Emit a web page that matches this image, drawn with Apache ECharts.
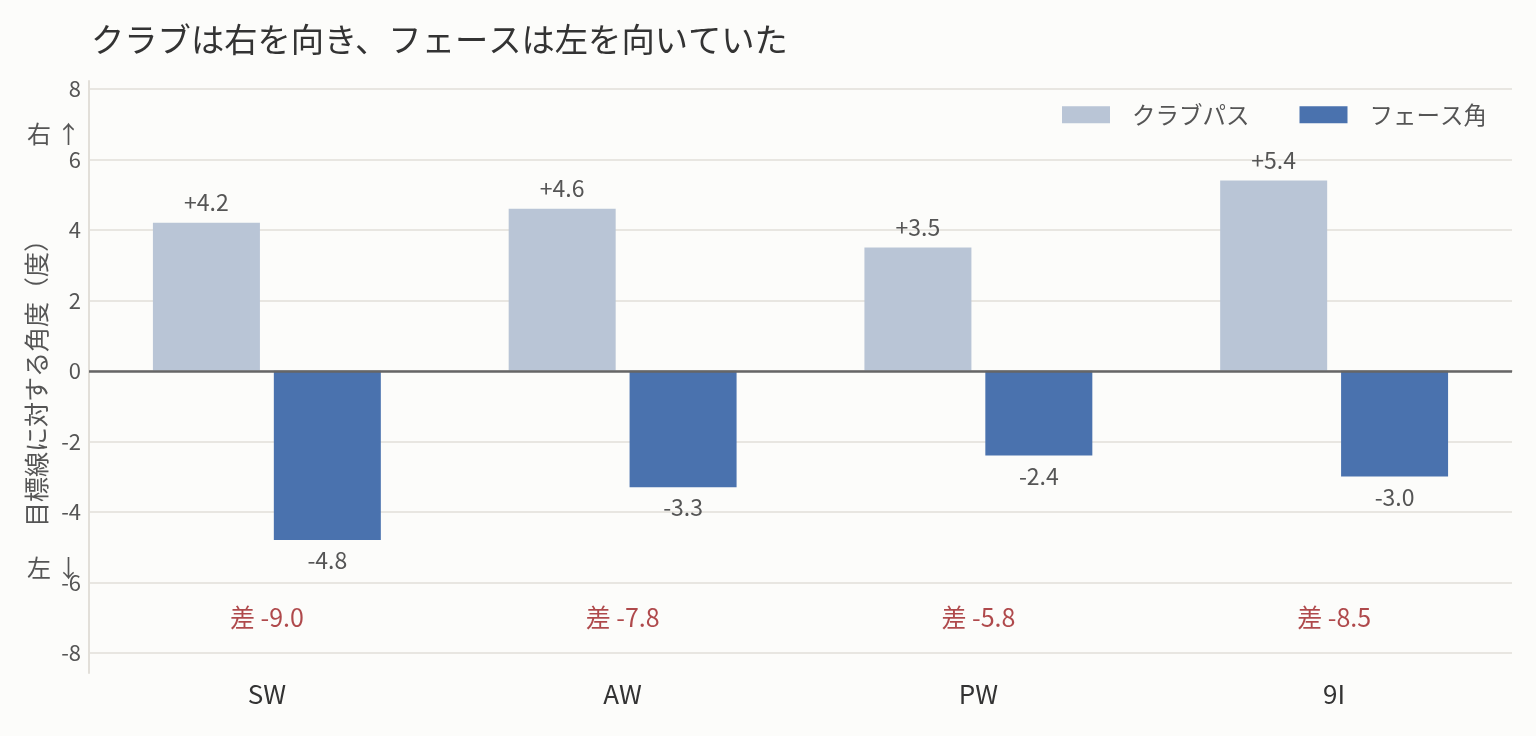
<!DOCTYPE html>
<html>
<head>
<meta charset="utf-8">
<script src="https://cdn.jsdelivr.net/npm/echarts@6/dist/echarts.min.js"></script>
<style>
  html, body { margin: 0; padding: 0; background: #fcfcfa; }
  #chart { width: 1536px; height: 736px; }
</style>
</head>
<body>
<div id="chart"></div>
<script>
// data
const clubs = ['SW', 'AW', 'PW', '9I'];
const clubPath = [4.2, 4.6, 3.5, 5.4];
const faceAngle = [-4.8, -3.3, -2.4, -3.0];
const diffLabels = ['差 -9.0', '差 -7.8', '差 -5.8', '差 -8.5'];
const diffLevel = -7.0;
const yTicks = [-8, -6, -4, -2, 0, 2, 4, 6, 8];

const font = '"Noto Sans CJK JP", "Noto Sans", sans-serif';

let chart = echarts.init(document.getElementById('chart'));

chart.setOption({
    backgroundColor: '#fcfcfa',
    textStyle: { fontFamily: font },
    title: {
        text: 'クラブは右を向き、フェースは左を向いていた',
        left: 86,
        top: 18,
        textStyle: { fontFamily: font, fontSize: 33.3, fontWeight: 'normal', color: '#333' }
    },
    legend: {
        data: ['クラブパス', 'フェース角'],
        icon: 'rect',
        right: 44,
        top: 98,
        itemWidth: 48,
        itemHeight: 17,
        itemGap: 50,
        textStyle: { fontFamily: font, fontSize: 23.5, color: '#555', padding: [0, 0, 0, 17] }
    },
    grid: { left: 89, right: 24, top: 81, bottom: 63 },
    xAxis: {
        type: 'category',
        data: clubs,
        axisLine: { lineStyle: { color: '#e2dfd9', width: 2 } },
        axisTick: { show: false },
        axisLabel: { fontFamily: font, fontSize: 26, color: '#333', margin: 8 }
    },
    yAxis: {
        type: 'value',
        min: -8.57,
        max: 8.22,
        name: '目標線に対する角度（度）',
        nameLocation: 'middle',
        nameGap: 40,
        nameRotate: 90,
        nameTextStyle: { fontFamily: font, fontSize: 25, color: '#555' },
        axisLine: { show: true, lineStyle: { color: '#e2dfd9', width: 2 } },
        axisTick: { show: false, customValues: yTicks },
        axisLabel: { fontFamily: font, fontSize: 22, color: '#555', margin: 8, customValues: yTicks },
        splitLine: { show: true, lineStyle: { color: '#e2dfd9', width: 1.5 } }
    },
    graphic: [
        { type: 'text', left: 27, top: 122, style: { text: '右 ↑', font: '24px ' + font, fill: '#555' } },
        { type: 'text', left: 27, top: 556, style: { text: '左 ↓', font: '24px ' + font, fill: '#555' } }
    ],
    series: [
        {
            name: 'クラブパス',
            type: 'bar',
            data: clubPath,
            barWidth: 107,
            barGap: '13%',
            itemStyle: { color: '#b9c5d6' },
            label: {
                show: true,
                position: 'top',
                distance: 9,
                fontFamily: font,
                fontSize: 23,
                color: '#555',
                formatter: p => (p.value > 0 ? '+' : '') + p.value.toFixed(1)
            },
            markLine: {
                silent: true,
                symbol: 'none',
                label: { show: false },
                lineStyle: { color: '#666', width: 2.5, type: 'solid' },
                data: [{ yAxis: 0 }]
            },
            z: 2
        },
        {
            name: 'フェース角',
            type: 'bar',
            data: faceAngle,
            barWidth: 107,
            itemStyle: { color: '#4a72ae' },
            label: {
                show: true,
                position: 'bottom',
                distance: 9,
                fontFamily: font,
                fontSize: 23,
                color: '#555',
                formatter: p => p.value.toFixed(1)
            },
            z: 2
        },
        {
            name: 'diff',
            type: 'scatter',
            data: clubs.map((c, i) => [c, diffLevel]),
            symbolSize: 1,
            itemStyle: { color: 'rgba(0,0,0,0)' },
            silent: true,
            label: {
                show: true,
                position: 'inside',
                fontFamily: font,
                fontSize: 25,
                color: '#9b1b1f',
                formatter: p => diffLabels[p.dataIndex]
            }
        }
    ]
});
</script>
</body>
</html>
